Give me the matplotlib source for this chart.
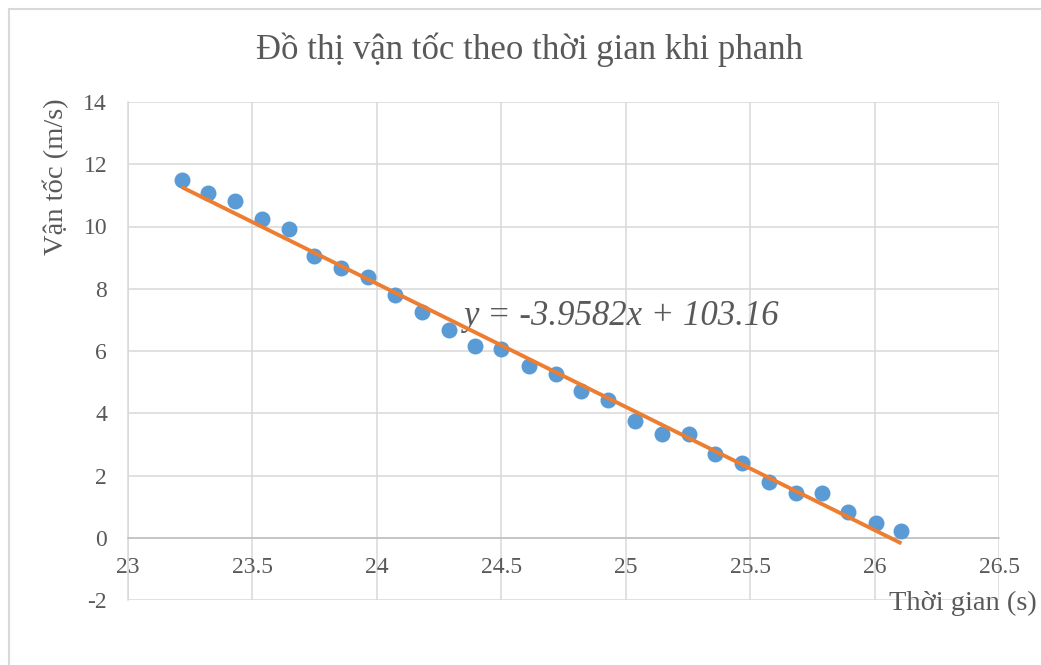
import matplotlib
matplotlib.use('Agg')
import matplotlib.pyplot as plt
import numpy as np
from matplotlib.patches import Rectangle

plt.rcParams['font.family'] = ['Liberation Serif', 'DejaVu Serif']
plt.rcParams['axes.unicode_minus'] = False

# du lieu doc tu hinh
thoi_gian = [23.216, 23.32, 23.43, 23.537, 23.645, 23.749, 23.857, 23.965,
             24.073, 24.18, 24.29, 24.394, 24.50, 24.61, 24.718, 24.82,
             24.93, 25.038, 25.147, 25.255, 25.359, 25.467, 25.575, 25.683,
             25.787, 25.895, 26.004, 26.108]
van_toc = [11.49, 11.07, 10.81, 10.24, 9.92, 9.05, 8.66, 8.37,
           7.79, 7.25, 6.67, 6.16, 6.06, 5.51, 5.25, 4.71,
           4.42, 3.74, 3.33, 3.33, 2.68, 2.39, 1.79, 1.45,
           1.45, 0.82, 0.48, 0.21]

# duong xu huong
he_so_a = -3.9582
he_so_b = 103.16

x_ticks = [23, 23.5, 24, 24.5, 25, 25.5, 26, 26.5]
x_tick_labels = ['23', '23.5', '24', '24.5', '25', '25.5', '26', '26.5']
y_ticks = [-2, 0, 2, 4, 6, 8, 10, 12, 14]

text_color = '#595959'
grid_color = '#d9d9d9'

fig = plt.figure(figsize=(10.41, 6.65), dpi=100)
W, H = 1041, 665
ax = fig.add_axes([128 / W, 1 - 600 / H, (999 - 128) / W, (600 - 102) / H])

# khung ngoai
fig.patches.append(Rectangle((9 / W, -0.1), 1.2, 1 - 9 / H + 0.1, transform=fig.transFigure,
                             fill=False, edgecolor=grid_color, linewidth=1.5))

x_arr = np.array(thoi_gian)
xs = np.array([x_arr.min(), x_arr.max()])
ax.plot(thoi_gian, van_toc, 'o', color='#5B9BD5', markersize=11.5, zorder=3, markeredgewidth=0)
ax.plot(xs, he_so_a * xs + he_so_b, color='#ED7D31', linewidth=2.8, zorder=4, solid_capstyle='butt')

ax.set_xlim(23, 26.5)
ax.set_ylim(-2, 14)
ax.set_xticks(x_ticks)
ax.set_xticklabels(x_tick_labels)
ax.set_yticks(y_ticks)
ax.grid(True, color=grid_color, linewidth=1.1)
ax.set_axisbelow(True)

for s in ['top', 'right']:
    ax.spines[s].set_visible(False)
ax.spines['left'].set_color(grid_color)
ax.spines['left'].set_linewidth(1.1)
ax.spines['bottom'].set_position(('data', 0))
ax.spines['bottom'].set_color('#bfbfbf')
ax.spines['bottom'].set_linewidth(1.1)

ax.tick_params(axis='both', length=0, labelsize=17, labelcolor=text_color)
ax.tick_params(axis='x', pad=14)
ax.tick_params(axis='y', pad=15)

fig.text(529 / W, 1 - 50 / H, 'Đồ thị vận tốc theo thời gian khi phanh', ha='center', va='center',
         fontsize=25, color=text_color)
fig.text(56 / W, 1 - 177 / H, 'Vận tốc (m/s)', rotation=90, ha='center', va='center',
         fontsize=20.5, color=text_color)
fig.text(1037 / W, 1 - 603 / H, 'Thời gian (s)', ha='right', va='center',
         fontsize=20.5, color=text_color)
ax.text(24.35, 7.1, 'y = -3.9582x + 103.16', ha='left', va='center', style='italic',
        fontsize=25, color=text_color)

fig.savefig('out.png', dpi=100)
